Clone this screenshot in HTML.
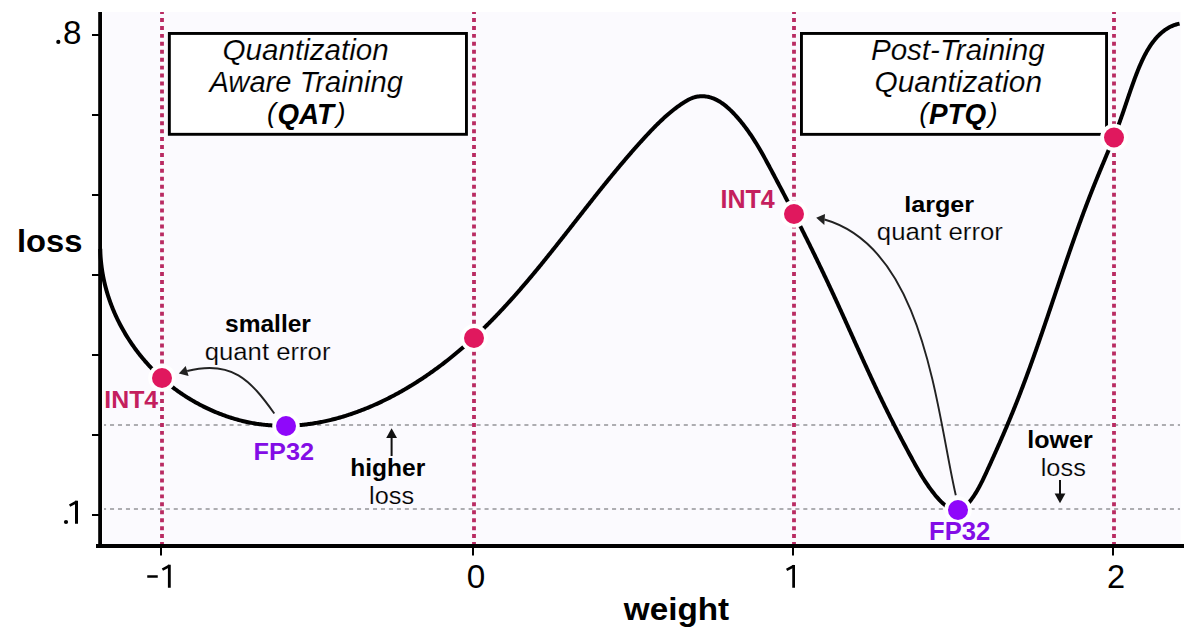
<!DOCTYPE html><html><head><meta charset="utf-8"><style>html,body{margin:0;padding:0;background:#fff;overflow:hidden;width:1200px;height:640px;}svg{display:block;}text{font-family:"Liberation Sans",sans-serif;}</style></head><body>
<svg width="1200" height="640" viewBox="0 0 1200 640">
<rect x="103" y="12" width="1077.5" height="532" fill="#fbfafe"/>
<line x1="104" y1="425" x2="1180" y2="425" stroke="#adadb1" stroke-width="1.9" stroke-dasharray="4.05 3.919" stroke-dashoffset="1.97"/>
<line x1="104" y1="509" x2="1180" y2="509" stroke="#adadb1" stroke-width="1.9" stroke-dasharray="4.05 3.919" stroke-dashoffset="1.97"/>
<line x1="162" y1="12" x2="162" y2="544" stroke="#b92b62" stroke-width="3.8" stroke-dasharray="3.97 3.97" stroke-dashoffset="1.94"/>
<line x1="474" y1="12" x2="474" y2="544" stroke="#b92b62" stroke-width="3.8" stroke-dasharray="3.97 3.97" stroke-dashoffset="1.94"/>
<line x1="794" y1="12" x2="794" y2="544" stroke="#b92b62" stroke-width="3.8" stroke-dasharray="3.97 3.97" stroke-dashoffset="1.94"/>
<line x1="1114" y1="12" x2="1114" y2="544" stroke="#b92b62" stroke-width="3.8" stroke-dasharray="3.97 3.97" stroke-dashoffset="1.94"/>
<rect x="169.35" y="33.45" width="297.1" height="100.85" fill="#fff" stroke="#000" stroke-width="2.9"/>
<rect x="801.45" y="33.45" width="305.1" height="100.9" fill="#fff" stroke="#000" stroke-width="2.9"/>
<path d="M100.27 248.90 L100.30 250.11 L100.33 251.31 L100.38 252.51 L100.43 253.71 L100.49 254.90 L100.56 256.10 L100.64 257.29 L100.73 258.48 L100.83 259.67 L100.94 260.86 L101.05 262.05 L101.18 263.23 L101.31 264.41 L101.45 265.59 L101.60 266.77 L101.76 267.95 L101.93 269.12 L102.10 270.29 L102.28 271.46 L102.47 272.63 L102.67 273.79 L102.88 274.96 L103.10 276.12 L103.32 277.28 L103.56 278.43 L103.80 279.59 L104.05 280.74 L104.30 281.89 L104.57 283.03 L104.84 284.18 L105.12 285.32 L105.41 286.46 L105.70 287.60 L106.01 288.73 L106.32 289.86 L106.64 290.99 L106.96 292.12 L107.30 293.24 L107.64 294.36 L107.99 295.48 L108.34 296.59 L108.71 297.70 L109.08 298.81 L109.46 299.92 L109.84 301.02 L110.24 302.12 L110.64 303.22 L111.04 304.31 L111.46 305.41 L111.88 306.49 L112.31 307.58 L112.74 308.66 L113.18 309.74 L113.63 310.82 L114.09 311.89 L114.55 312.96 L115.02 314.02 L115.50 315.09 L115.98 316.14 L116.47 317.20 L116.97 318.25 L117.47 319.30 L117.98 320.35 L118.50 321.39 L119.02 322.43 L119.55 323.46 L120.08 324.49 L120.62 325.52 L121.17 326.54 L121.72 327.56 L122.28 328.58 L122.85 329.59 L123.42 330.60 L124.00 331.61 L124.58 332.61 L125.17 333.61 L125.77 334.60 L126.37 335.59 L126.98 336.57 L127.59 337.56 L128.21 338.53 L128.84 339.51 L129.47 340.48 L130.10 341.44 L130.75 342.40 L131.39 343.36 L132.05 344.31 L132.71 345.26 L133.37 346.20 L134.04 347.14 L134.71 348.08 L135.39 349.01 L136.08 349.94 L136.77 350.86 L137.46 351.78 L138.17 352.69 L138.87 353.60 L139.58 354.50 L140.30 355.40 L141.02 356.30 L141.74 357.19 L142.47 358.07 L143.21 358.95 L143.95 359.83 L144.70 360.70 L145.45 361.57 L146.20 362.43 L146.96 363.29 L147.72 364.14 L148.49 364.99 L149.26 365.83 L150.04 366.67 L150.82 367.50 L151.61 368.32 L152.40 369.15 L153.20 369.97 L154.00 370.78 L154.80 371.59 L155.61 372.39 L156.43 373.19 L157.25 373.98 L158.07 374.77 L158.90 375.55 L159.74 376.33 L160.58 377.10 L161.42 377.87 L162.27 378.63 L163.13 379.39 L163.99 380.14 L164.85 380.89 L165.72 381.64 L166.59 382.37 L167.47 383.11 L168.36 383.83 L169.25 384.56 L170.14 385.28 L171.04 385.99 L171.95 386.70 L172.86 387.40 L173.78 388.10 L174.70 388.79 L175.62 389.48 L176.55 390.16 L177.49 390.84 L178.43 391.51 L179.38 392.18 L180.33 392.84 L181.29 393.50 L182.26 394.15 L183.23 394.80 L184.20 395.44 L185.18 396.08 L186.16 396.71 L187.15 397.34 L188.15 397.96 L189.15 398.57 L190.15 399.18 L191.16 399.79 L192.18 400.39 L193.20 400.98 L194.22 401.57 L195.25 402.15 L196.28 402.73 L197.31 403.30 L198.35 403.86 L199.40 404.42 L200.45 404.97 L201.50 405.52 L202.55 406.06 L203.61 406.59 L204.68 407.12 L205.74 407.64 L206.81 408.16 L207.89 408.66 L208.96 409.17 L210.04 409.66 L211.12 410.15 L212.21 410.63 L213.30 411.11 L214.39 411.58 L215.49 412.04 L216.58 412.49 L217.68 412.94 L218.78 413.38 L219.89 413.82 L221.00 414.24 L222.10 414.66 L223.22 415.08 L224.33 415.48 L225.44 415.88 L226.56 416.27 L227.68 416.65 L228.80 417.03 L229.92 417.40 L231.05 417.76 L232.17 418.11 L233.30 418.46 L234.43 418.80 L235.56 419.13 L236.69 419.45 L237.82 419.76 L238.95 420.07 L240.09 420.37 L241.22 420.66 L242.36 420.94 L243.49 421.21 L244.63 421.48 L245.77 421.73 L246.90 421.98 L248.04 422.22 L249.18 422.46 L250.32 422.68 L251.46 422.90 L252.59 423.11 L253.73 423.31 L254.87 423.50 L256.01 423.68 L257.15 423.86 L258.30 424.03 L259.44 424.19 L260.58 424.34 L261.72 424.49 L262.86 424.62 L264.00 424.75 L265.15 424.88 L266.29 424.99 L267.43 425.10 L268.58 425.19 L269.72 425.29 L270.86 425.37 L272.00 425.45 L273.15 425.51 L274.29 425.58 L275.43 425.63 L276.58 425.68 L277.72 425.72 L278.86 425.75 L280.01 425.77 L281.15 425.79 L282.29 425.80 L283.44 425.80 L284.58 425.80 L285.72 425.79 L286.87 425.77 L288.01 425.74 L289.15 425.71 L290.29 425.67 L291.44 425.62 L292.58 425.57 L293.72 425.51 L294.86 425.44 L296.00 425.37 L297.14 425.28 L298.29 425.20 L299.43 425.10 L300.57 425.00 L301.70 424.89 L302.84 424.78 L303.98 424.66 L305.12 424.53 L306.26 424.39 L307.40 424.25 L308.53 424.10 L309.67 423.95 L310.81 423.79 L311.94 423.62 L313.08 423.45 L314.21 423.27 L315.35 423.08 L316.48 422.89 L317.61 422.69 L318.75 422.49 L319.88 422.28 L321.01 422.06 L322.14 421.84 L323.27 421.61 L324.40 421.37 L325.52 421.13 L326.65 420.88 L327.78 420.63 L328.90 420.37 L330.03 420.10 L331.15 419.83 L332.28 419.56 L333.40 419.27 L334.52 418.98 L335.64 418.69 L336.76 418.39 L337.88 418.08 L339.00 417.77 L340.12 417.46 L341.23 417.13 L342.35 416.81 L343.46 416.47 L344.58 416.13 L345.69 415.79 L346.80 415.44 L347.91 415.08 L349.02 414.72 L350.13 414.36 L351.24 413.99 L352.34 413.61 L353.45 413.23 L354.55 412.84 L355.65 412.45 L356.75 412.05 L357.85 411.65 L358.95 411.24 L360.05 410.83 L361.14 410.41 L362.24 409.99 L363.33 409.56 L364.42 409.13 L365.52 408.69 L366.61 408.25 L367.69 407.80 L368.78 407.35 L369.87 406.89 L370.95 406.43 L372.03 405.97 L373.11 405.50 L374.19 405.02 L375.27 404.54 L376.35 404.06 L377.42 403.57 L378.50 403.08 L379.57 402.58 L380.64 402.07 L381.71 401.57 L382.77 401.06 L383.84 400.54 L384.90 400.02 L385.96 399.50 L387.02 398.97 L388.08 398.44 L389.14 397.90 L390.20 397.36 L391.25 396.81 L392.30 396.27 L393.35 395.71 L394.40 395.16 L395.45 394.59 L396.49 394.03 L397.53 393.46 L398.57 392.89 L399.61 392.31 L400.65 391.73 L401.68 391.15 L402.72 390.56 L403.75 389.97 L404.78 389.37 L405.80 388.77 L406.83 388.17 L407.85 387.56 L408.87 386.95 L409.89 386.34 L410.91 385.72 L411.92 385.10 L412.94 384.48 L413.95 383.85 L414.96 383.22 L415.96 382.58 L416.97 381.94 L417.97 381.30 L418.97 380.66 L419.96 380.01 L420.96 379.36 L421.95 378.71 L422.94 378.05 L423.93 377.39 L424.92 376.73 L425.90 376.06 L426.88 375.39 L427.86 374.72 L428.84 374.05 L429.81 373.37 L430.78 372.69 L431.75 372.00 L432.72 371.32 L433.68 370.63 L434.64 369.93 L435.60 369.24 L436.56 368.54 L437.51 367.84 L438.47 367.14 L439.42 366.43 L440.36 365.73 L441.31 365.02 L442.25 364.30 L443.18 363.59 L444.12 362.87 L445.05 362.15 L445.98 361.43 L446.91 360.70 L447.84 359.97 L448.76 359.24 L449.68 358.51 L450.60 357.78 L451.52 357.04 L452.43 356.30 L453.34 355.56 L454.25 354.81 L455.16 354.07 L456.06 353.32 L456.96 352.57 L457.86 351.81 L458.76 351.06 L459.65 350.30 L460.54 349.54 L461.43 348.78 L462.32 348.01 L463.20 347.24 L464.09 346.48 L464.97 345.71 L465.85 344.93 L466.72 344.16 L467.60 343.38 L468.47 342.60 L469.34 341.82 L470.21 341.04 L471.07 340.25 L471.94 339.46 L472.80 338.67 L473.66 337.88 L474.51 337.09 L475.37 336.29 L476.22 335.50 L477.07 334.70 L477.92 333.89 L478.77 333.09 L479.62 332.29 L480.46 331.48 L481.30 330.67 L482.14 329.86 L482.98 329.05 L483.81 328.23 L484.65 327.42 L485.48 326.60 L486.31 325.78 L487.14 324.96 L487.96 324.14 L488.79 323.31 L489.61 322.48 L490.43 321.66 L491.25 320.83 L492.07 319.99 L492.89 319.16 L493.70 318.33 L494.51 317.49 L495.32 316.65 L496.13 315.81 L496.94 314.97 L497.75 314.13 L498.55 313.28 L499.35 312.44 L500.16 311.59 L500.96 310.74 L501.75 309.89 L502.55 309.04 L503.35 308.19 L504.14 307.33 L504.93 306.47 L505.72 305.62 L506.51 304.76 L507.30 303.90 L508.09 303.03 L508.87 302.17 L509.66 301.31 L510.44 300.44 L511.22 299.57 L512.00 298.71 L512.78 297.84 L513.55 296.96 L514.33 296.09 L515.11 295.22 L515.88 294.34 L516.65 293.47 L517.42 292.59 L518.19 291.71 L518.96 290.83 L519.73 289.95 L520.49 289.07 L521.26 288.19 L522.02 287.30 L522.78 286.42 L523.55 285.53 L524.31 284.65 L525.07 283.76 L525.83 282.87 L526.58 281.98 L527.34 281.09 L528.09 280.19 L528.85 279.30 L529.60 278.41 L530.35 277.51 L531.11 276.62 L531.86 275.72 L532.61 274.82 L533.36 273.92 L534.10 273.02 L534.85 272.12 L535.60 271.22 L536.34 270.32 L537.09 269.42 L537.83 268.51 L538.57 267.61 L539.32 266.70 L540.06 265.80 L540.80 264.89 L541.54 263.98 L542.28 263.07 L543.02 262.16 L543.75 261.25 L544.49 260.34 L545.23 259.43 L545.97 258.52 L546.70 257.61 L547.44 256.70 L548.17 255.78 L548.90 254.87 L549.64 253.95 L550.37 253.04 L551.10 252.12 L551.83 251.21 L552.56 250.29 L553.30 249.37 L554.03 248.46 L554.76 247.54 L555.48 246.62 L556.21 245.70 L556.94 244.78 L557.67 243.86 L558.40 242.94 L559.13 242.02 L559.85 241.10 L560.58 240.18 L561.31 239.26 L562.03 238.34 L562.76 237.41 L563.49 236.49 L564.21 235.57 L564.94 234.65 L565.66 233.72 L566.39 232.80 L567.11 231.88 L567.84 230.95 L568.56 230.03 L569.28 229.11 L570.01 228.18 L570.73 227.26 L571.46 226.33 L572.18 225.41 L572.91 224.48 L573.63 223.56 L574.35 222.63 L575.08 221.71 L575.80 220.79 L576.53 219.86 L577.25 218.94 L577.97 218.01 L578.70 217.09 L579.42 216.16 L580.15 215.24 L580.87 214.31 L581.60 213.39 L582.32 212.46 L583.05 211.54 L583.77 210.62 L584.50 209.69 L585.22 208.77 L585.95 207.84 L586.68 206.92 L587.40 206.00 L588.13 205.07 L588.86 204.15 L589.58 203.23 L590.31 202.31 L591.04 201.39 L591.77 200.46 L592.50 199.54 L593.23 198.62 L593.95 197.70 L594.68 196.78 L595.42 195.86 L596.15 194.94 L596.88 194.02 L597.61 193.10 L598.34 192.19 L599.07 191.27 L599.81 190.35 L600.54 189.43 L601.28 188.52 L602.01 187.60 L602.75 186.69 L603.48 185.77 L604.22 184.86 L604.96 183.94 L605.70 183.03 L606.44 182.12 L607.18 181.21 L607.92 180.29 L608.66 179.38 L609.40 178.47 L610.14 177.56 L610.89 176.66 L611.63 175.75 L612.38 174.84 L613.12 173.93 L613.87 173.03 L614.62 172.12 L615.36 171.22 L616.11 170.32 L616.86 169.41 L617.61 168.51 L618.37 167.61 L619.12 166.71 L619.87 165.81 L620.63 164.91 L621.38 164.01 L622.14 163.12 L622.90 162.22 L623.66 161.33 L624.42 160.43 L625.18 159.54 L625.94 158.65 L626.70 157.76 L627.47 156.87 L628.23 155.98 L629.00 155.09 L629.77 154.20 L630.54 153.32 L631.31 152.43 L632.08 151.55 L632.85 150.67 L633.63 149.79 L634.40 148.91 L635.18 148.03 L635.96 147.15 L636.74 146.27 L637.52 145.40 L638.30 144.52 L639.08 143.65 L639.87 142.78 L640.65 141.91 L641.44 141.04 L642.23 140.17 L643.02 139.30 L643.81 138.44 L644.60 137.58 L645.40 136.71 L646.19 135.85 L646.99 134.99 L647.79 134.13 L648.59 133.28 L649.39 132.42 L650.20 131.57 L651.01 130.72 L651.82 129.88 L652.63 129.03 L653.45 128.19 L654.27 127.35 L655.09 126.52 L655.91 125.68 L656.74 124.86 L657.57 124.03 L658.41 123.21 L659.25 122.39 L660.09 121.58 L660.94 120.77 L661.79 119.97 L662.64 119.17 L663.50 118.38 L664.37 117.59 L665.24 116.80 L666.11 116.03 L666.99 115.25 L667.88 114.48 L668.76 113.72 L669.66 112.97 L670.56 112.22 L671.47 111.48 L672.38 110.74 L673.30 110.01 L674.22 109.29 L675.15 108.57 L676.09 107.86 L677.03 107.16 L677.98 106.47 L678.94 105.78 L679.90 105.10 L680.87 104.43 L681.85 103.77 L682.83 103.12 L683.83 102.47 L684.83 101.84 L685.84 101.22 L686.85 100.63 L687.88 100.06 L688.92 99.51 L689.96 99.00 L691.02 98.52 L692.09 98.07 L693.17 97.67 L694.26 97.32 L695.36 97.01 L696.47 96.75 L697.60 96.55 L698.73 96.39 L699.87 96.29 L701.01 96.23 L702.16 96.21 L703.30 96.25 L704.45 96.32 L705.59 96.45 L706.73 96.61 L707.86 96.82 L708.98 97.06 L710.09 97.35 L711.19 97.68 L712.28 98.04 L713.36 98.44 L714.42 98.88 L715.47 99.35 L716.51 99.85 L717.54 100.39 L718.55 100.95 L719.55 101.54 L720.54 102.16 L721.52 102.81 L722.49 103.48 L723.45 104.17 L724.40 104.89 L725.33 105.63 L726.26 106.39 L727.17 107.16 L728.07 107.96 L728.97 108.76 L729.85 109.59 L730.72 110.42 L731.59 111.27 L732.44 112.13 L733.28 113.00 L734.12 113.87 L734.94 114.76 L735.75 115.64 L736.56 116.54 L737.36 117.43 L738.14 118.33 L738.92 119.24 L739.69 120.15 L740.45 121.06 L741.21 121.98 L741.95 122.90 L742.69 123.83 L743.42 124.76 L744.14 125.69 L744.86 126.63 L745.56 127.57 L746.26 128.51 L746.96 129.46 L747.64 130.41 L748.32 131.37 L749.00 132.33 L749.66 133.29 L750.32 134.25 L750.98 135.22 L751.63 136.19 L752.27 137.16 L752.91 138.14 L753.54 139.12 L754.17 140.10 L754.79 141.08 L755.41 142.07 L756.02 143.06 L756.63 144.05 L757.23 145.04 L757.83 146.04 L758.43 147.04 L759.02 148.04 L759.61 149.04 L760.19 150.04 L760.77 151.05 L761.35 152.06 L761.92 153.07 L762.50 154.08 L763.06 155.09 L763.63 156.10 L764.19 157.12 L764.76 158.13 L765.32 159.15 L765.87 160.17 L766.43 161.19 L766.98 162.21 L767.54 163.23 L768.09 164.26 L768.64 165.28 L769.19 166.30 L769.73 167.33 L770.28 168.35 L770.83 169.38 L771.38 170.40 L771.92 171.43 L772.47 172.46 L773.01 173.49 L773.56 174.51 L774.11 175.54 L774.65 176.57 L775.20 177.60 L775.74 178.63 L776.28 179.66 L776.83 180.69 L777.37 181.72 L777.91 182.75 L778.46 183.78 L779.00 184.81 L779.54 185.84 L780.08 186.87 L780.63 187.91 L781.17 188.94 L781.71 189.97 L782.25 191.01 L782.79 192.04 L783.33 193.08 L783.87 194.11 L784.41 195.14 L784.94 196.18 L785.48 197.22 L786.02 198.25 L786.56 199.29 L787.10 200.33 L787.63 201.36 L788.17 202.40 L788.70 203.44 L789.24 204.48 L789.78 205.51 L790.31 206.55 L790.85 207.59 L791.38 208.63 L791.91 209.67 L792.45 210.71 L792.98 211.75 L793.51 212.79 L794.04 213.83 L794.58 214.88 L795.11 215.92 L795.64 216.96 L796.17 218.00 L796.70 219.04 L797.23 220.09 L797.76 221.13 L798.29 222.18 L798.82 223.22 L799.34 224.26 L799.87 225.31 L800.40 226.35 L800.92 227.40 L801.45 228.45 L801.98 229.49 L802.50 230.54 L803.03 231.58 L803.55 232.63 L804.07 233.68 L804.60 234.73 L805.12 235.77 L805.64 236.82 L806.17 237.87 L806.69 238.92 L807.21 239.97 L807.73 241.02 L808.25 242.07 L808.77 243.12 L809.29 244.17 L809.81 245.22 L810.32 246.27 L810.84 247.32 L811.36 248.37 L811.88 249.43 L812.39 250.48 L812.91 251.53 L813.42 252.58 L813.94 253.64 L814.45 254.69 L814.97 255.74 L815.48 256.80 L815.99 257.85 L816.50 258.91 L817.01 259.96 L817.53 261.02 L818.04 262.07 L818.55 263.13 L819.06 264.19 L819.56 265.24 L820.07 266.30 L820.58 267.36 L821.09 268.41 L821.59 269.47 L822.10 270.53 L822.61 271.59 L823.11 272.64 L823.61 273.70 L824.12 274.76 L824.62 275.82 L825.12 276.88 L825.63 277.94 L826.13 279.00 L826.63 280.06 L827.13 281.12 L827.63 282.18 L828.13 283.24 L828.63 284.30 L829.12 285.37 L829.62 286.43 L830.12 287.49 L830.61 288.55 L831.11 289.61 L831.60 290.68 L832.10 291.74 L832.59 292.80 L833.09 293.87 L833.58 294.93 L834.07 296.00 L834.56 297.06 L835.05 298.12 L835.54 299.19 L836.03 300.25 L836.52 301.32 L837.01 302.39 L837.50 303.45 L837.98 304.52 L838.47 305.58 L838.96 306.65 L839.44 307.72 L839.93 308.78 L840.42 309.85 L840.90 310.92 L841.39 311.98 L841.87 313.05 L842.35 314.12 L842.84 315.18 L843.32 316.25 L843.80 317.32 L844.29 318.39 L844.77 319.45 L845.25 320.52 L845.73 321.59 L846.22 322.66 L846.70 323.73 L847.18 324.79 L847.66 325.86 L848.14 326.93 L848.62 328.00 L849.10 329.07 L849.58 330.13 L850.06 331.20 L850.55 332.27 L851.03 333.34 L851.51 334.41 L851.99 335.47 L852.47 336.54 L852.95 337.61 L853.43 338.68 L853.91 339.75 L854.39 340.81 L854.87 341.88 L855.35 342.95 L855.83 344.02 L856.31 345.08 L856.79 346.15 L857.28 347.22 L857.76 348.29 L858.24 349.35 L858.72 350.42 L859.20 351.49 L859.69 352.55 L860.17 353.62 L860.65 354.68 L861.13 355.75 L861.62 356.82 L862.10 357.88 L862.58 358.95 L863.07 360.01 L863.55 361.08 L864.04 362.14 L864.52 363.21 L865.01 364.27 L865.50 365.34 L865.98 366.40 L866.47 367.46 L866.96 368.53 L867.44 369.59 L867.93 370.65 L868.42 371.72 L868.91 372.78 L869.40 373.84 L869.89 374.90 L870.38 375.96 L870.87 377.02 L871.37 378.08 L871.86 379.14 L872.35 380.20 L872.85 381.26 L873.34 382.32 L873.84 383.38 L874.33 384.44 L874.83 385.50 L875.33 386.56 L875.83 387.61 L876.33 388.67 L876.83 389.73 L877.33 390.78 L877.83 391.84 L878.33 392.89 L878.83 393.95 L879.34 395.00 L879.84 396.06 L880.35 397.11 L880.85 398.16 L881.36 399.22 L881.87 400.27 L882.38 401.32 L882.89 402.37 L883.40 403.42 L883.91 404.47 L884.43 405.52 L884.94 406.57 L885.46 407.62 L885.97 408.67 L886.49 409.71 L887.01 410.76 L887.53 411.81 L888.05 412.85 L888.57 413.90 L889.09 414.94 L889.62 415.99 L890.14 417.03 L890.66 418.07 L891.19 419.12 L891.72 420.16 L892.25 421.20 L892.78 422.24 L893.31 423.28 L893.84 424.32 L894.37 425.36 L894.90 426.40 L895.43 427.44 L895.97 428.47 L896.50 429.51 L897.04 430.55 L897.57 431.58 L898.11 432.62 L898.65 433.65 L899.19 434.69 L899.73 435.72 L900.27 436.75 L900.81 437.78 L901.35 438.82 L901.89 439.85 L902.44 440.88 L902.98 441.91 L903.53 442.94 L904.07 443.97 L904.62 445.00 L905.16 446.02 L905.71 447.05 L906.26 448.08 L906.81 449.11 L907.36 450.13 L907.91 451.16 L908.46 452.18 L909.01 453.20 L909.56 454.23 L910.11 455.25 L910.67 456.27 L911.22 457.30 L911.77 458.32 L912.33 459.34 L912.88 460.36 L913.44 461.38 L914.00 462.40 L914.55 463.42 L915.12 464.43 L915.68 465.45 L916.25 466.47 L916.83 467.49 L917.40 468.51 L917.98 469.53 L918.57 470.55 L919.17 471.57 L919.77 472.60 L920.37 473.62 L920.99 474.64 L921.61 475.67 L922.24 476.69 L922.87 477.72 L923.52 478.75 L924.18 479.78 L924.84 480.81 L925.52 481.85 L926.21 482.88 L926.90 483.92 L927.61 484.96 L928.34 486.00 L929.07 487.04 L929.82 488.09 L930.58 489.13 L931.36 490.18 L932.15 491.24 L932.95 492.29 L933.77 493.33 L934.59 494.37 L935.43 495.40 L936.28 496.42 L937.15 497.42 L938.02 498.41 L938.89 499.37 L939.78 500.31 L940.67 501.23 L941.57 502.11 L942.48 502.96 L943.39 503.78 L944.31 504.56 L945.23 505.30 L946.15 505.99 L947.08 506.64 L948.01 507.24 L948.94 507.79 L949.87 508.29 L950.80 508.72 L951.73 509.10 L952.66 509.41 L953.59 509.66 L954.51 509.84 L955.43 509.95 L956.35 509.98 L957.26 509.94 L958.16 509.81 L959.06 509.61 L959.96 509.32 L960.84 508.97 L961.72 508.54 L962.59 508.04 L963.46 507.49 L964.31 506.87 L965.16 506.19 L965.99 505.47 L966.82 504.69 L967.63 503.87 L968.44 503.00 L969.23 502.10 L970.02 501.16 L970.79 500.19 L971.55 499.20 L972.29 498.18 L973.02 497.14 L973.74 496.08 L974.45 495.00 L975.14 493.92 L975.81 492.83 L976.47 491.74 L977.12 490.65 L977.75 489.55 L978.37 488.46 L978.98 487.36 L979.57 486.26 L980.15 485.16 L980.72 484.06 L981.28 482.96 L981.84 481.86 L982.38 480.76 L982.92 479.66 L983.45 478.56 L983.97 477.46 L984.49 476.36 L985.01 475.26 L985.52 474.16 L986.03 473.06 L986.53 471.96 L987.04 470.86 L987.54 469.77 L988.04 468.67 L988.54 467.58 L989.04 466.49 L989.53 465.40 L990.03 464.31 L990.53 463.22 L991.02 462.13 L991.51 461.04 L992.00 459.96 L992.49 458.87 L992.98 457.79 L993.47 456.71 L993.96 455.62 L994.44 454.54 L994.93 453.46 L995.41 452.38 L995.89 451.30 L996.37 450.22 L996.85 449.14 L997.33 448.07 L997.81 446.99 L998.29 445.91 L998.76 444.84 L999.24 443.76 L999.71 442.69 L1000.18 441.61 L1000.65 440.54 L1001.12 439.46 L1001.59 438.39 L1002.05 437.32 L1002.52 436.24 L1002.98 435.17 L1003.45 434.10 L1003.91 433.03 L1004.37 431.95 L1004.83 430.88 L1005.29 429.81 L1005.74 428.74 L1006.20 427.66 L1006.66 426.59 L1007.11 425.52 L1007.56 424.45 L1008.01 423.37 L1008.46 422.30 L1008.91 421.23 L1009.36 420.16 L1009.81 419.08 L1010.25 418.01 L1010.70 416.93 L1011.14 415.86 L1011.58 414.79 L1012.02 413.71 L1012.46 412.63 L1012.90 411.56 L1013.34 410.48 L1013.77 409.41 L1014.21 408.33 L1014.64 407.25 L1015.08 406.17 L1015.51 405.09 L1015.94 404.01 L1016.37 402.93 L1016.79 401.85 L1017.22 400.77 L1017.65 399.69 L1018.07 398.60 L1018.50 397.52 L1018.92 396.44 L1019.34 395.35 L1019.76 394.27 L1020.18 393.18 L1020.60 392.09 L1021.02 391.01 L1021.43 389.92 L1021.85 388.83 L1022.26 387.74 L1022.68 386.66 L1023.09 385.57 L1023.50 384.48 L1023.91 383.39 L1024.32 382.30 L1024.73 381.20 L1025.14 380.11 L1025.54 379.02 L1025.95 377.93 L1026.36 376.83 L1026.76 375.74 L1027.16 374.65 L1027.57 373.55 L1027.97 372.46 L1028.37 371.36 L1028.77 370.27 L1029.17 369.17 L1029.57 368.07 L1029.97 366.98 L1030.37 365.88 L1030.76 364.78 L1031.16 363.68 L1031.55 362.58 L1031.95 361.48 L1032.34 360.38 L1032.74 359.28 L1033.13 358.18 L1033.52 357.08 L1033.91 355.98 L1034.30 354.88 L1034.69 353.78 L1035.08 352.68 L1035.47 351.58 L1035.86 350.47 L1036.25 349.37 L1036.63 348.27 L1037.02 347.16 L1037.41 346.06 L1037.79 344.95 L1038.18 343.85 L1038.56 342.75 L1038.95 341.64 L1039.33 340.53 L1039.71 339.43 L1040.10 338.32 L1040.48 337.22 L1040.86 336.11 L1041.24 335.00 L1041.62 333.90 L1042.01 332.79 L1042.39 331.68 L1042.77 330.58 L1043.15 329.47 L1043.53 328.36 L1043.90 327.25 L1044.28 326.14 L1044.66 325.03 L1045.04 323.93 L1045.42 322.82 L1045.80 321.71 L1046.17 320.60 L1046.55 319.49 L1046.93 318.38 L1047.30 317.27 L1047.68 316.16 L1048.06 315.05 L1048.43 313.94 L1048.81 312.83 L1049.18 311.72 L1049.56 310.61 L1049.94 309.50 L1050.31 308.38 L1050.69 307.27 L1051.06 306.16 L1051.44 305.05 L1051.81 303.94 L1052.19 302.83 L1052.56 301.72 L1052.94 300.60 L1053.31 299.49 L1053.69 298.38 L1054.06 297.27 L1054.43 296.16 L1054.81 295.05 L1055.18 293.93 L1055.56 292.82 L1055.93 291.71 L1056.31 290.60 L1056.68 289.49 L1057.06 288.37 L1057.43 287.26 L1057.81 286.15 L1058.18 285.04 L1058.56 283.92 L1058.94 282.81 L1059.31 281.70 L1059.69 280.59 L1060.06 279.48 L1060.44 278.36 L1060.82 277.25 L1061.19 276.14 L1061.57 275.03 L1061.95 273.92 L1062.33 272.81 L1062.70 271.69 L1063.08 270.58 L1063.46 269.47 L1063.84 268.36 L1064.22 267.25 L1064.60 266.14 L1064.98 265.03 L1065.36 263.91 L1065.74 262.80 L1066.12 261.69 L1066.50 260.58 L1066.88 259.47 L1067.26 258.36 L1067.65 257.25 L1068.03 256.14 L1068.41 255.03 L1068.79 253.92 L1069.18 252.81 L1069.56 251.70 L1069.95 250.59 L1070.33 249.48 L1070.72 248.37 L1071.11 247.27 L1071.49 246.16 L1071.88 245.05 L1072.27 243.94 L1072.66 242.83 L1073.05 241.73 L1073.44 240.62 L1073.83 239.51 L1074.22 238.40 L1074.61 237.30 L1075.00 236.19 L1075.40 235.08 L1075.79 233.98 L1076.18 232.87 L1076.58 231.77 L1076.98 230.66 L1077.37 229.56 L1077.77 228.45 L1078.17 227.35 L1078.57 226.24 L1078.97 225.14 L1079.37 224.04 L1079.77 222.93 L1080.17 221.83 L1080.57 220.73 L1080.97 219.63 L1081.38 218.52 L1081.78 217.42 L1082.19 216.32 L1082.60 215.22 L1083.00 214.12 L1083.41 213.02 L1083.82 211.92 L1084.23 210.82 L1084.64 209.72 L1085.06 208.63 L1085.47 207.53 L1085.88 206.43 L1086.30 205.33 L1086.72 204.24 L1087.13 203.14 L1087.55 202.04 L1087.97 200.95 L1088.39 199.85 L1088.81 198.76 L1089.23 197.66 L1089.66 196.57 L1090.08 195.48 L1090.51 194.38 L1090.93 193.29 L1091.36 192.20 L1091.79 191.11 L1092.22 190.02 L1092.65 188.93 L1093.08 187.84 L1093.52 186.75 L1093.95 185.66 L1094.39 184.57 L1094.82 183.48 L1095.26 182.39 L1095.70 181.31 L1096.14 180.22 L1096.58 179.13 L1097.03 178.05 L1097.47 176.96 L1097.92 175.88 L1098.36 174.80 L1098.81 173.71 L1099.26 172.63 L1099.70 171.55 L1100.15 170.47 L1100.60 169.38 L1101.05 168.30 L1101.50 167.22 L1101.95 166.14 L1102.40 165.06 L1102.86 163.98 L1103.31 162.90 L1103.76 161.82 L1104.21 160.75 L1104.66 159.67 L1105.11 158.59 L1105.56 157.51 L1106.01 156.44 L1106.45 155.36 L1106.90 154.28 L1107.35 153.21 L1107.80 152.13 L1108.24 151.06 L1108.69 149.98 L1109.13 148.91 L1109.57 147.83 L1110.01 146.76 L1110.45 145.68 L1110.89 144.61 L1111.33 143.53 L1111.76 142.46 L1112.20 141.39 L1112.63 140.31 L1113.06 139.24 L1113.49 138.17 L1113.91 137.09 L1114.34 136.02 L1114.76 134.95 L1115.18 133.88 L1115.60 132.80 L1116.01 131.73 L1116.42 130.66 L1116.83 129.59 L1117.24 128.51 L1117.65 127.44 L1118.05 126.37 L1118.45 125.30 L1118.84 124.22 L1119.24 123.15 L1119.63 122.08 L1120.01 121.01 L1120.40 119.93 L1120.78 118.86 L1121.16 117.79 L1121.54 116.71 L1121.91 115.64 L1122.28 114.56 L1122.66 113.49 L1123.03 112.41 L1123.40 111.33 L1123.77 110.26 L1124.13 109.18 L1124.50 108.10 L1124.87 107.01 L1125.23 105.93 L1125.60 104.85 L1125.97 103.76 L1126.33 102.67 L1126.70 101.58 L1127.07 100.49 L1127.44 99.40 L1127.81 98.30 L1128.18 97.21 L1128.56 96.11 L1128.93 95.01 L1129.31 93.90 L1129.69 92.80 L1130.07 91.69 L1130.45 90.58 L1130.84 89.46 L1131.23 88.35 L1131.62 87.23 L1132.02 86.11 L1132.42 84.98 L1132.82 83.85 L1133.23 82.72 L1133.64 81.59 L1134.05 80.45 L1134.47 79.31 L1134.89 78.17 L1135.32 77.02 L1135.76 75.87 L1136.19 74.72 L1136.64 73.56 L1137.09 72.41 L1137.54 71.25 L1138.01 70.10 L1138.47 68.94 L1138.95 67.79 L1139.43 66.64 L1139.92 65.49 L1140.42 64.35 L1140.92 63.21 L1141.43 62.07 L1141.95 60.94 L1142.48 59.81 L1143.02 58.69 L1143.56 57.57 L1144.11 56.47 L1144.68 55.37 L1145.25 54.28 L1145.83 53.19 L1146.42 52.12 L1147.02 51.06 L1147.64 50.00 L1148.26 48.96 L1148.89 47.93 L1149.54 46.91 L1150.19 45.91 L1150.86 44.91 L1151.53 43.94 L1152.22 42.97 L1152.93 42.02 L1153.64 41.09 L1154.37 40.17 L1155.11 39.27 L1155.86 38.39 L1156.63 37.52 L1157.40 36.68 L1158.20 35.85 L1159.00 35.04 L1159.83 34.25 L1160.66 33.48 L1161.51 32.74 L1162.37 32.01 L1163.25 31.31 L1164.15 30.63 L1165.06 29.98 L1165.99 29.34 L1166.93 28.74 L1167.89 28.15 L1168.86 27.60 L1169.85 27.07 L1170.86 26.57 L1171.88 26.09 L1172.93 25.64 L1173.99 25.23 L1175.06 24.84 L1176.16 24.48 L1177.27 24.15 L1178.41 23.85 L1179.56 23.58" fill="none" stroke="#000" stroke-width="4.0" stroke-linejoin="round"/>
<path d="M274.3 413.5 C 250.3 379.7, 231.6 359.7, 187.2 371.0" fill="none" stroke="#222" stroke-width="1.9"/>
<path d="M178.8 373.5 L185.7 365.9 L188.6 375.9 Z" fill="#222"/>
<path d="M955.8 495.3 C 936.5 411.9, 925.0 248.1, 824.5 219.5" fill="none" stroke="#222" stroke-width="1.9"/>
<path d="M816.2 217.7 L825.0 214.0 L824.3 225.0 Z" fill="#222"/>
<line x1="391.6" y1="456" x2="391.6" y2="436" stroke="#111" stroke-width="2"/>
<path d="M391.6 428.2 L386.2 438 L397 438 Z" fill="#111"/>
<line x1="1060" y1="480" x2="1060" y2="495" stroke="#111" stroke-width="2"/>
<path d="M1060 503.2 L1054.6 493.5 L1065.4 493.5 Z" fill="#111"/>
<circle cx="162" cy="378" r="13.8" fill="#fff"/>
<circle cx="162" cy="378" r="10" fill="#e0185e"/>
<circle cx="286" cy="426" r="13.8" fill="#fff"/>
<circle cx="286" cy="426" r="10" fill="#8f08fa"/>
<circle cx="474" cy="338" r="13.8" fill="#fff"/>
<circle cx="474" cy="338" r="10" fill="#e0185e"/>
<circle cx="794" cy="214" r="13.8" fill="#fff"/>
<circle cx="794" cy="214" r="10" fill="#e0185e"/>
<circle cx="958" cy="510" r="13.8" fill="#fff"/>
<circle cx="958" cy="510" r="10" fill="#8f08fa"/>
<circle cx="1114" cy="137.5" r="13.8" fill="#fff"/>
<circle cx="1114" cy="137.5" r="10" fill="#e0185e"/>
<rect x="98.2" y="12" width="3.8" height="536" fill="#000"/>
<rect x="96" y="544" width="1088" height="4" fill="#000"/>
<rect x="92" y="34.0" width="7" height="2" fill="#000"/>
<rect x="92" y="114.0" width="7" height="2" fill="#000"/>
<rect x="92" y="194.0" width="7" height="2" fill="#000"/>
<rect x="92" y="274.0" width="7" height="2" fill="#000"/>
<rect x="92" y="354.0" width="7" height="2" fill="#000"/>
<rect x="92" y="434.0" width="7" height="2" fill="#000"/>
<rect x="92" y="514.0" width="7" height="2" fill="#000"/>
<rect x="160.0" y="547" width="2" height="8.5" fill="#000"/>
<rect x="472.0" y="547" width="2" height="8.5" fill="#000"/>
<rect x="792.0" y="547" width="2" height="8.5" fill="#000"/>
<rect x="1112.0" y="547" width="2" height="8.5" fill="#000"/>
<circle cx="58.3" cy="41.9" r="2.1" fill="#000"/>
<text transform="translate(62.99 43.90) scale(0.9810 1)" font-size="33.84" font-weight="normal" font-style="normal" fill="#000" >8</text>
<circle cx="66" cy="522" r="2.1" fill="#000"/>
<rect x="75.00" y="500.75" width="3.00" height="23.00" fill="#000"/><path d="M69.60 505.65 L76.80 501.75" stroke="#000" stroke-width="2.6" fill="none"/>
<text transform="translate(16.91 252.00) scale(1.0191 1)" font-size="32.14" font-weight="bold" font-style="normal" fill="#000" >loss</text>
<text transform="translate(623.78 619.70) scale(1.0491 1)" font-size="31.72" font-weight="bold" font-style="normal" fill="#000" >weight</text>
<rect x="147.25" y="575.25" width="10.5" height="2.5" fill="#000"/>
<rect x="167.90" y="564.75" width="2.85" height="23.00" fill="#000"/><path d="M162.40 569.65 L169.61 565.75" stroke="#000" stroke-width="2.6" fill="none"/>
<text transform="translate(466.67 588.00) scale(0.9883 1)" font-size="33.69" font-weight="normal" font-style="normal" fill="#000" >0</text>
<rect x="792.25" y="565.00" width="2.75" height="22.75" fill="#000"/><path d="M786.60 569.90 L793.90 566.00" stroke="#000" stroke-width="2.6" fill="none"/>
<text transform="translate(1106.97 588.00) scale(0.9654 1)" font-size="33.69" font-weight="normal" font-style="normal" fill="#000" >2</text>
<text transform="translate(222.52 59.60) scale(1.0177 1)" font-size="29.10" font-weight="normal" font-style="italic" fill="#000" stroke="#fff" stroke-width="0.15" >Quantization</text>
<text transform="translate(209.39 91.80) scale(0.9882 1)" font-size="29.53" font-weight="normal" font-style="italic" fill="#000" stroke="#fff" stroke-width="0.15" >Aware Training</text>
<text transform="translate(267.10 122.29) scale(1.0000 1)" font-size="27.02" font-weight="normal" font-style="italic" fill="#000" >(</text>
<text transform="translate(277.41 123.60) scale(0.9440 1)" font-size="29.38" font-weight="bold" font-style="italic" fill="#000" >QAT</text>
<text transform="translate(336.60 122.29) scale(1.0000 1)" font-size="27.02" font-weight="normal" font-style="italic" fill="#000" >)</text>
<text transform="translate(870.91 59.80) scale(1.0271 1)" font-size="28.80" font-weight="normal" font-style="italic" fill="#000" stroke="#fff" stroke-width="0.15" >Post-Training</text>
<text transform="translate(874.51 91.50) scale(1.0412 1)" font-size="28.67" font-weight="normal" font-style="italic" fill="#000" stroke="#fff" stroke-width="0.14" >Quantization</text>
<text transform="translate(919.15 122.25) scale(1.0000 1)" font-size="27.24" font-weight="normal" font-style="italic" fill="#000" >(</text>
<text transform="translate(929.01 123.60) scale(0.9581 1)" font-size="29.09" font-weight="bold" font-style="italic" fill="#000" >PTQ</text>
<text transform="translate(988.38 122.25) scale(1.0000 1)" font-size="27.24" font-weight="normal" font-style="italic" fill="#000" >)</text>
<text transform="translate(225.04 331.90) scale(1.0341 1)" font-size="23.72" font-weight="bold" font-style="normal" fill="#000" >smaller</text>
<text transform="translate(204.71 359.60) scale(1.0495 1)" font-size="24.50" font-weight="normal" font-style="normal" fill="#000" stroke="#fbfafe" stroke-width="0.19" >quant error</text>
<text transform="translate(904.24 211.50) scale(1.1471 1)" font-size="21.93" font-weight="bold" font-style="normal" fill="#000" >larger</text>
<text transform="translate(876.80 239.60) scale(1.0529 1)" font-size="24.50" font-weight="normal" font-style="normal" fill="#000" stroke="#fbfafe" stroke-width="0.19" >quant error</text>
<text transform="translate(350.28 475.70) scale(1.0233 1)" font-size="24.00" font-weight="bold" font-style="normal" fill="#000" >higher</text>
<text transform="translate(369.09 503.50) scale(1.0989 1)" font-size="23.03" font-weight="normal" font-style="normal" fill="#000" stroke="#fbfafe" stroke-width="0.18" >loss</text>
<text transform="translate(1027.24 447.90) scale(1.0573 1)" font-size="23.72" font-weight="bold" font-style="normal" fill="#000" >lower</text>
<text transform="translate(1040.68 475.70) scale(1.0975 1)" font-size="23.17" font-weight="normal" font-style="normal" fill="#000" stroke="#fbfafe" stroke-width="0.18" >loss</text>
<text transform="translate(104.32 407.70) scale(1.0050 1)" font-size="24.73" font-weight="bold" font-style="normal" fill="#c41f5e" >INT4</text>
<text transform="translate(720.41 207.75) scale(0.9942 1)" font-size="25.24" font-weight="bold" font-style="normal" fill="#c41f5e" >INT4</text>
<text transform="translate(253.59 460.00) scale(1.0329 1)" font-size="24.52" font-weight="bold" font-style="normal" fill="#830ce6" >FP32</text>
<text transform="translate(929.07 539.70) scale(1.0256 1)" font-size="24.95" font-weight="bold" font-style="normal" fill="#830ce6" >FP32</text>
</svg></body></html>
